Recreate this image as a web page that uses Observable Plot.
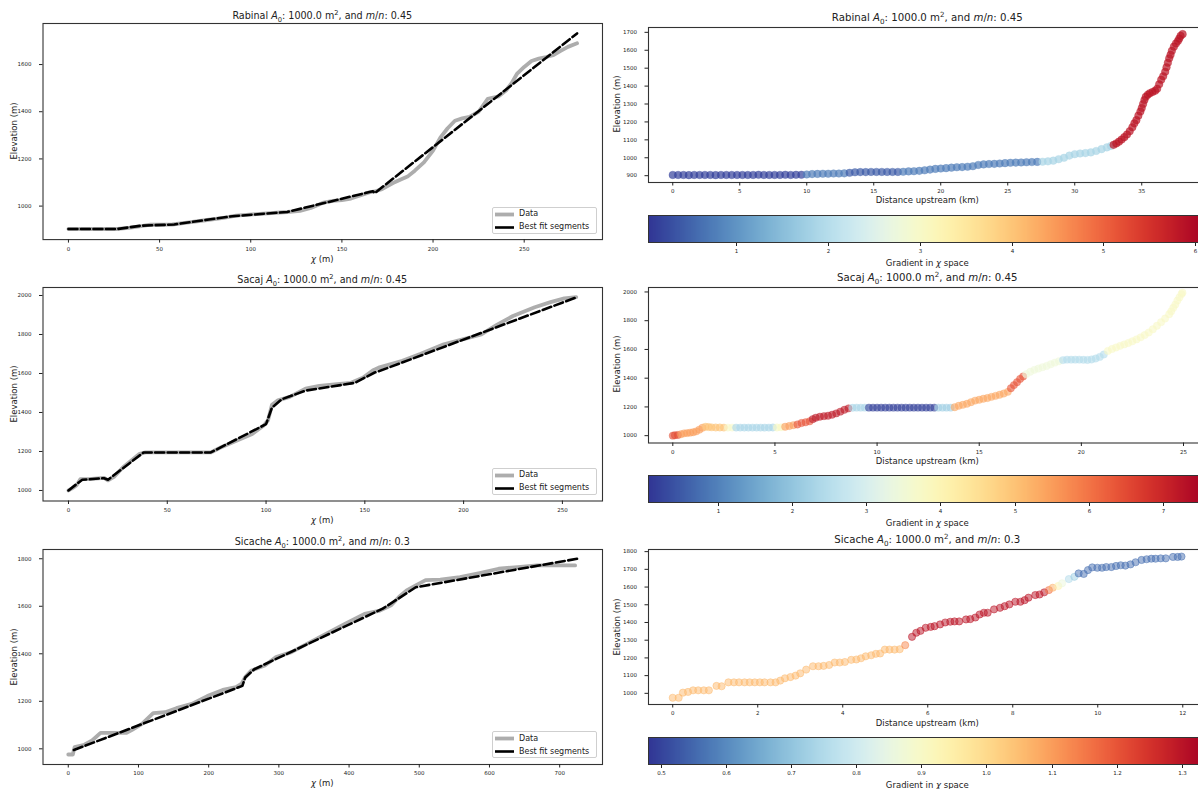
<!DOCTYPE html>
<html><head><meta charset="utf-8">
<script src="https://cdn.jsdelivr.net/npm/d3@7"></script>
<script src="https://cdn.jsdelivr.net/npm/@observablehq/plot@0.6"></script>
<style>
html,body{margin:0;padding:0;overflow:hidden;background:#fff;}
#root{position:relative;width:1198px;height:789px;overflow:hidden;font-family:"DejaVu Sans",sans-serif;color:#222;}
#root svg{position:absolute;overflow:visible;}
.t{position:absolute;transform:translate(-50%,-50%);white-space:nowrap;line-height:1;}
.yl{position:absolute;transform:translate(-50%,-50%) rotate(-90deg);white-space:nowrap;line-height:1;font-size:8.5px;}
.t sub,.t sup{font-size:70%;line-height:0;}
.leg{position:absolute;border:1px solid #cfcfcf;border-radius:2px;background:rgba(255,255,255,0.85);box-sizing:border-box;font-size:8px;}
.leg div{position:absolute;left:0;white-space:nowrap;line-height:1;}
.cbb{position:absolute;border:1px solid #333;box-sizing:border-box;}
</style></head><body><div id="root"></div>
<script>
// ---------- data: chi plots (left column) ----------
const rabinalChi  = [0,10,20,27,33,40,45,57,65,75,85,92,105,120,127,133,140,145,150,155,160,165,168,172,178,182,186,190,195,200,204,208,212,216,220,225,230,236,240,243,246,250,254,258,262,266,270,274,279];
const rabinalElev = [903,903,903,903,908,915,921,922,930,940,950,960,967,975,980,992,1015,1022,1025,1032,1045,1058,1062,1072,1098,1112,1125,1150,1185,1235,1290,1330,1362,1372,1378,1400,1455,1465,1490,1520,1560,1590,1615,1625,1632,1640,1658,1675,1690];
const rabinalFitChi  = [0,27,40,58,90,120,145,167,168,279];
const rabinalFitElev = [903,903,917,922,957,975,1022,1063,1055,1732];

const sacajChi  = [0,2,4,6,10,15,18,20,23,27.5,32,36,39,50,72,77,85,93,99,101,103,106,112,120,127,136,143,149,154,157,169,178,190,200,209,217,225,236,244,251,257];
const sacajElev = [1000,1012,1026,1058,1058,1062,1065,1052,1070,1118,1155,1188,1195,1195,1195,1220,1255,1290,1335,1360,1440,1462,1480,1522,1536,1545,1552,1578,1615,1630,1665,1700,1750,1776,1800,1850,1895,1940,1966,1985,1992];
const sacajFitChi  = [0,5,7,18,20,38,72,100,103,108,120,145,155,158,257];
const sacajFitElev = [1000,1040,1055,1063,1055,1195,1195,1340,1425,1468,1512,1552,1605,1615,1990];

const sicacheChi  = [0,6.5,9,23,34,46,67,83,91,105,121,138,154,176,198,220,239,247,252,261,280,296,318,340,367,394,422,444,460,471,482,495,509,530,558,586,613,640,668,700,722];
const sicacheElev = [976,976,1007,1017,1035,1067,1067,1067,1080,1105,1150,1154,1171,1189,1222,1248,1260,1274,1302,1330,1351,1386,1407,1442,1484,1526,1568,1582,1604,1639,1667,1688,1710,1712,1723,1740,1758,1765,1772,1772,1772];
const sicacheFitChi  = [8,248,252,265,448,495,725];
const sicacheFitElev = [995,1265,1300,1335,1590,1680,1800];

// ---------- data: long profiles (right column) ----------
const rabinalDist = [0,0.4,0.8,1.2,1.6,2.0,2.4,2.8,3.2,3.6,4.0,4.4,4.8,5.2,5.6,6.0,6.4,6.8,7.2,7.6,8.0,8.4,8.8,9.2,9.6,10.0,10.4,10.8,11.2,11.6,12.0,12.4,12.8,13.2,13.6,14.0,14.4,14.8,15.2,15.6,16.0,16.4,16.8,17.2,17.6,18.0,18.4,18.8,19.2,19.6,20.0,20.4,20.8,21.2,21.6,22.0,22.4,22.8,23.2,23.6,24.0,24.4,24.8,25.2,25.6,26.0,26.4,26.8,27.2,27.6,28.0,28.4,28.8,29.2,29.6,30.0,30.4,30.8,31.2,31.6,32.0,32.4,32.7,32.9,33.1,33.3,33.5,33.7,33.9,34.1,34.3,34.45,34.6,34.75,34.9,35.0,35.1,35.2,35.3,35.45,35.6,35.8,36.0,36.15,36.3,36.45,36.6,36.75,36.85,36.95,37.05,37.15,37.25,37.4,37.55,37.7,37.8,37.9,38.05];
const rabinalProfElev = [904,904,904,903,904,904,904,904,903,904,904,904,904,904,904,904,905,904,904,904,904,905,904,905,905,907,909,910,911,911,912,912,913,916,919,920,920,921,921,921,921,921,921,922,924,925,927,930,934,938,940,942,945,947,948,950,953,960,963,965,966,968,970,972,973,974,975,976,977,978,980,984,992,1000,1012,1020,1024,1026,1030,1038,1048,1058,1066,1072,1080,1090,1102,1115,1130,1148,1170,1192,1210,1235,1258,1278,1300,1322,1340,1352,1360,1367,1374,1385,1410,1435,1455,1480,1505,1530,1555,1575,1597,1620,1638,1652,1665,1680,1690];
const rabinalSegBreaks = [9.8,13.2,17.2,27.5,32.85];
const rabinalSegGrad   = [0.15,0.75,0.4,0.75,1.83,5.85];

const sacajDist = [0,0.1,0.25,0.4,0.55,0.7,0.85,1.0,1.15,1.3,1.45,1.6,1.75,1.9,2.1,2.3,2.5,2.7,2.9,3.1,3.3,3.5,3.7,3.9,4.1,4.3,4.5,4.7,4.9,5.1,5.3,5.5,5.7,5.9,6.1,6.3,6.5,6.7,6.85,7.0,7.2,7.4,7.6,7.8,8.0,8.2,8.4,8.6,8.8,9.0,9.2,9.4,9.6,9.8,10.0,10.2,10.4,10.6,10.8,11.0,11.2,11.4,11.6,11.8,12.0,12.2,12.4,12.6,12.8,13.0,13.2,13.4,13.6,13.8,14.0,14.2,14.4,14.6,14.8,15.0,15.2,15.4,15.6,15.8,16.0,16.2,16.4,16.55,16.7,16.85,17.0,17.15,17.3,17.5,17.7,17.9,18.1,18.3,18.5,18.7,18.9,19.1,19.3,19.5,19.7,19.9,20.1,20.3,20.5,20.7,20.9,21.1,21.3,21.5,21.7,21.9,22.1,22.3,22.5,22.7,22.9,23.1,23.3,23.5,23.7,23.9,24.1,24.3,24.4,24.5,24.6,24.7,24.8,24.9,24.95];
const sacajProfElev = [1000,1003,1005,1010,1016,1018,1021,1024,1030,1042,1055,1062,1060,1058,1057,1057,1056,1056,1056,1056,1056,1056,1056,1056,1056,1056,1056,1056,1057,1057,1058,1062,1067,1073,1078,1088,1093,1100,1115,1125,1132,1136,1139,1146,1155,1167,1180,1190,1194,1195,1195,1195,1195,1195,1195,1195,1195,1195,1195,1195,1195,1195,1195,1195,1195,1195,1195,1195,1195,1195,1195,1195,1195,1198,1208,1215,1222,1233,1244,1250,1257,1262,1270,1277,1285,1293,1305,1330,1352,1372,1395,1412,1428,1445,1458,1467,1476,1485,1497,1508,1518,1526,1529,1529,1529,1529,1528,1527,1530,1537,1548,1565,1590,1603,1614,1625,1635,1645,1657,1670,1684,1700,1718,1740,1765,1790,1815,1845,1865,1890,1912,1940,1962,1985,1995];
const sacajSegBreaks = [0.4,1.5,2.7,3.0,5.0,5.4,6.0,6.8,8.7,9.6,12.9,13.8,16.5,17.3,19.0,21.2];
const sacajSegGrad   = [6.5,5.5,5.0,3.7,2.3,3.8,5.5,6.4,7.2,2.3,0.2,2.2,5.4,6.4,3.45,2.45,3.75];

const sicacheDist = [0,0.14,0.24,0.36,0.48,0.6,0.73,0.85,1.03,1.15,1.31,1.44,1.56,1.69,1.81,1.93,2.05,2.16,2.3,2.42,2.53,2.64,2.77,2.89,3.0,3.14,3.3,3.43,3.55,3.68,3.81,3.93,4.05,4.2,4.32,4.43,4.54,4.67,4.78,4.88,4.99,5.1,5.22,5.34,5.47,5.63,5.73,5.83,5.95,6.07,6.16,6.29,6.41,6.53,6.63,6.74,6.9,7.0,7.12,7.22,7.32,7.41,7.56,7.7,7.81,7.92,8.06,8.18,8.28,8.37,8.53,8.63,8.74,8.85,8.94,9.07,9.16,9.32,9.45,9.55,9.67,9.77,9.87,9.99,10.1,10.2,10.32,10.43,10.54,10.65,10.77,10.89,11.03,11.15,11.26,11.36,11.48,11.6,11.77,11.88,11.97];
const sicacheProfElev = [975,975,1004,1008,1017,1017,1017,1017,1042,1040,1062,1062,1062,1062,1062,1062,1062,1062,1062,1062,1072,1085,1092,1100,1113,1134,1153,1153,1155,1160,1174,1174,1177,1189,1191,1198,1209,1215,1223,1225,1247,1247,1247,1249,1272,1319,1342,1353,1370,1375,1379,1389,1400,1404,1406,1406,1417,1419,1428,1445,1455,1455,1474,1483,1492,1502,1517,1517,1526,1540,1555,1558,1570,1583,1596,1606,1621,1645,1658,1677,1674,1696,1711,1709,1709,1713,1713,1719,1723,1721,1728,1740,1753,1757,1760,1760,1762,1762,1770,1770,1772];
const sicacheSegBreaks = [5.42,5.55,8.8,8.9,9.0,9.1,9.25,9.4,9.5];
const sicacheSegGrad   = [1.06,1.13,1.30,1.16,1.07,0.93,0.86,0.75,0.72,0.56];

// ---------- ticks ----------
const chiTicks250 = [0,50,100,150,200,250];
const chiTicks700 = [0,100,200,300,400,500,600,700];
const rabinalYTicks = [1000,1200,1400,1600];
const sacajYTicks = [1000,1200,1400,1600,1800,2000];
const sicacheYTicks = [1000,1200,1400,1600,1800];
const rabinalProfYTicks = [900,1000,1100,1200,1300,1400,1500,1600,1700];
const sacajProfYTicks = [1000,1200,1400,1600,1800,2000];
const sicacheProfYTicks = [1000,1100,1200,1300,1400,1500,1600,1700,1800];
const rabinalDistTicks = [0,5,10,15,20,25,30,35];
const sacajDistTicks = [0,5,10,15,20,25];
const sicacheDistTicks = [0,2,4,6,8,10,12];
const rabinalCbTicks = [1,2,3,4,5,6];
const sacajCbTicks = [1,2,3,4,5,6,7];
const sicacheCbTicks = [0.5,0.6,0.7,0.8,0.9,1.0,1.1,1.2,1.3];

// ---------- helpers ----------
const root = document.getElementById("root");
const FONT = "DejaVu Sans";
function put(el, x, y){ el.style.left = x + "px"; el.style.top = y + "px"; root.appendChild(el); return el; }
function div(cls, html, x, y, css){ const d = document.createElement("div"); d.className = cls; d.innerHTML = html; if (css) Object.assign(d.style, css); return put(d, x, y); }
function titleHtml(name, mn){ return `${name} <i>A</i><sub>0</sub>: 1000.0 m<sup>2</sup>, and <i>m</i>/<i>n</i>: ${mn}`; }
function segGrad(d, breaks, grads){ let i = 0; while (i < breaks.length && d >= breaks[i]) i++; return grads[i]; }

const LX0 = 42.5, LX1 = 602;
function leftPanel(p){
  const mt = 5, mb = 24, W = 604;
  const H = p.fb - p.ft + mt + mb;
  const rows = p.chi.map((c, i) => ({c, e: p.elev[i]}));
  const fit = p.fitChi.map((c, i) => ({c, e: p.fitElev[i]}));
  const svg = Plot.plot({
    width: W, height: H, marginTop: mt, marginBottom: mb, marginLeft: LX0, marginRight: W - LX1,
    style: {fontFamily: FONT, fontSize: "5.5px", color: "#222", background: "transparent"},
    x: {domain: p.xd}, y: {domain: p.yd},
    marks: [
      Plot.line(rows, {x: "c", y: "e", stroke: "#adadad", strokeWidth: 3.8}),
      Plot.line(fit, {x: "c", y: "e", stroke: "#000", strokeWidth: 2.6, strokeDasharray: "9,3.5"}),
      Plot.frame({stroke: "#333", strokeWidth: 1.1}),
      Plot.axisX({ticks: p.xt, tickSize: 3.5, tickPadding: 3.5, tickFormat: "d", label: null}),
      Plot.axisY({ticks: p.yt, tickSize: 3.5, tickPadding: 8, tickFormat: "d", label: null})
    ]
  });
  put(svg, 0, p.ft - mt);
  const cx = (LX0 + LX1) / 2;
  div("t", titleHtml(p.name, p.mn), cx, p.ft - 7.5, {fontSize: "9.6px"});
  div("t", "<i>χ</i> (m)", cx, p.fb + 19, {fontSize: "8.5px"});
  div("yl", "Elevation (m)", 13.5, (p.ft + p.fb) / 2);
  // legend
  const lw = 105, lh = 27;
  const lg = div("leg", "", LX1 - 5 - lw, p.fb - 6 - lh, {width: lw + "px", height: lh + "px"});
  lg.innerHTML =
    `<svg width="24" height="27" style="position:absolute;left:0;top:0"><line x1="2" x2="21" y1="6.5" y2="6.5" stroke="#adadad" stroke-width="3.8"/><line x1="2" x2="21" y1="19.5" y2="19.5" stroke="#000" stroke-width="2.6"/></svg>` +
    `<div style="left:26px;top:2.5px">Data</div><div style="left:26px;top:15.5px">Best fit segments</div>`;
}

const RX0 = 648, RX1 = 1206.5, RSVG = 600;
function rightPanel(p){
  const mt = 5, mb = 24, W = 607;
  const H = p.fb - p.ft + mt + mb;
  const rows = p.dist.map((d, i) => ({d, e: p.elev[i], g: segGrad(d, p.breaks, p.grads)}));
  const color = {type: "linear", scheme: "RdYlBu", reverse: true, domain: p.cd};
  const svg = Plot.plot({
    width: W, height: H, marginTop: mt, marginBottom: mb, marginLeft: RX0 - RSVG, marginRight: RSVG + W - RX1,
    style: {fontFamily: FONT, fontSize: "5.5px", color: "#222", background: "transparent"},
    x: {domain: p.xd}, y: {domain: p.yd}, color,
    marks: [
      Plot.dot(rows, {x: "d", y: "e", r: p.r, fill: "g", stroke: "g", fillOpacity: p.fo, strokeOpacity: p.so, strokeWidth: 0.9}),
      Plot.frame({stroke: "#333", strokeWidth: 1.1}),
      Plot.axisX({ticks: p.xt, tickSize: 3.5, tickPadding: 3.5, tickFormat: "d", label: null}),
      Plot.axisY({ticks: p.yt, tickSize: 3.5, tickPadding: 8, tickFormat: "d", label: null})
    ]
  });
  put(svg, RSVG, p.ft - mt);
  const cx = (RX0 + RX1) / 2;
  div("t", titleHtml(p.name, p.mn), cx, p.ft - 9, {fontSize: "10.2px"});
  div("t", "Distance upstream (km)", cx, p.fb + 18.5, {fontSize: "8.5px"});
  div("yl", "Elevation (m)", 617, (p.ft + p.fb) / 2);
  // colorbar
  const cbH = 27.5, lab = 14;
  const leg = Plot.legend({
    color, width: RX1 - RX0, height: cbH + lab, marginTop: 0, marginBottom: lab, marginLeft: 0, marginRight: 0,
    ticks: p.ct, tickFormat: p.cf, tickSize: 3.5, label: null,
    style: {fontFamily: FONT, fontSize: "5.5px", color: "#222", background: "transparent"}
  });
  d3.select(leg).selectAll(".tick line").attr("y1", 0);
  put(leg, RX0, p.cbTop);
  div("cbb", "", RX0, p.cbTop, {width: (RX1 - RX0) + "px", height: cbH + "px"});
  div("t", "Gradient in <i>χ</i> space", cx, p.cbTop + 47.5, {fontSize: "8.5px"});
}

leftPanel({name: "Rabinal", mn: "0.45", ft: 23.4, fb: 239.5, xd: [-13.95, 292.95], yd: [858, 1774], xt: chiTicks250, yt: rabinalYTicks,
  chi: rabinalChi, elev: rabinalElev, fitChi: rabinalFitChi, fitElev: rabinalFitElev});
leftPanel({name: "Sacaj", mn: "0.45", ft: 287, fb: 500.5, xd: [-12.9, 270.3], yd: [946, 2041], xt: chiTicks250, yt: sacajYTicks,
  chi: sacajChi, elev: sacajElev, fitChi: sacajFitChi, fitElev: sacajFitElev});
leftPanel({name: "Sicache", mn: "0.3", ft: 549, fb: 764, xd: [-36, 761], yd: [934, 1839], xt: chiTicks700, yt: sicacheYTicks,
  chi: sicacheChi, elev: sicacheElev, fitChi: sicacheFitChi, fitElev: sicacheFitElev});

rightPanel({name: "Rabinal", mn: "0.45", ft: 26.5, fb: 181.5, xd: [-1.81, 39.87], yd: [862, 1727], xt: rabinalDistTicks, yt: rabinalProfYTicks,
  dist: rabinalDist, elev: rabinalProfElev, breaks: rabinalSegBreaks, grads: rabinalSegGrad, r: 3.8, fo: 0.7, so: 0.35,
  cd: [0.035, 6.125], ct: rabinalCbTicks, cf: d3.format("d"), cbTop: 215});
rightPanel({name: "Sacaj", mn: "0.45", ft: 286.5, fb: 442, xd: [-1.19, 26.15], yd: [949, 2031], xt: sacajDistTicks, yt: sacajProfYTicks,
  dist: sacajDist, elev: sacajProfElev, breaks: sacajSegBreaks, grads: sacajSegGrad, r: 3.7, fo: 0.6, so: 0.3,
  cd: [0.053, 7.59], ct: sacajCbTicks, cf: d3.format("d"), cbTop: 475});
rightPanel({name: "Sicache", mn: "0.3", ft: 549, fb: 704, xd: [-0.57, 12.57], yd: [937, 1812], xt: sicacheDistTicks, yt: sicacheProfYTicks,
  dist: sicacheDist, elev: sicacheProfElev, breaks: sicacheSegBreaks, grads: sicacheSegGrad, r: 3.6, fo: 0.5, so: 0.55,
  cd: [0.48, 1.338], ct: sicacheCbTicks, cf: d3.format(".1f"), cbTop: 737.3});
</script></body></html>
